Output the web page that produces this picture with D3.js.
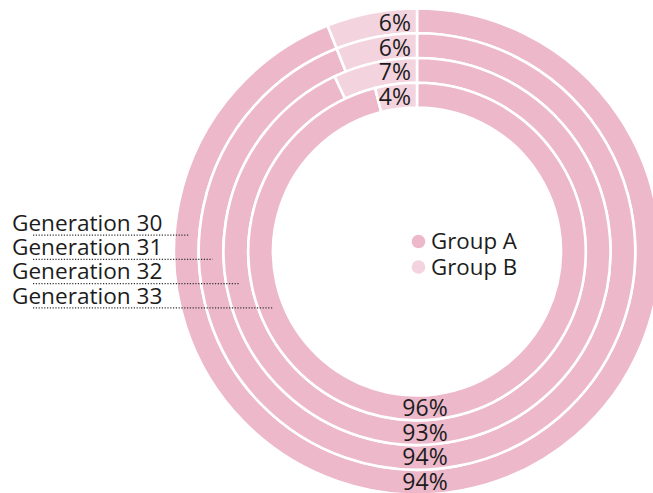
<!DOCTYPE html>
<html><head><meta charset="utf-8">
<script src="https://cdn.jsdelivr.net/npm/d3@7"></script>
<style>html,body{margin:0;padding:0;background:#fff;}svg{display:block;}</style>
</head><body>
<svg id="chart" width="653" height="493"></svg>
<script>
const categories = ["Generation 30","Generation 31","Generation 32","Generation 33"];
const groups = ["Group A","Group B"];
const groupA = [94,94,93,96];
const groupB = [6,6,7,4];

const W = 653, H = 493;
const cx = 417, cy = 251.5;
const colors = {"Group A":"#ecb8ca","Group B":"#f3d3de"};
const font = "'Open Sans', 'Noto Sans', sans-serif";
const textColor = "#1c1c1c";

const svg = d3.select("#chart");
const g = svg.append("g").attr("transform", `translate(${cx},${cy})`);

const rScale = d3.scaleBand().domain(categories).range([243, 144]).paddingInner(0);
const aScale = d3.scaleLinear().domain([0,100]).range([0, 2*Math.PI]);
const arc = d3.arc();

categories.forEach((c,i) => {
  const inner = rScale(c), outer = inner + rScale.bandwidth();
  const segs = [
    {k:"Group A", s:0, e:groupA[i]},
    {k:"Group B", s:groupA[i], e:groupA[i]+groupB[i]}
  ];
  segs.forEach(sg => {
    g.append("path")
      .attr("d", arc({innerRadius:inner, outerRadius:outer, startAngle:aScale(sg.s), endAngle:aScale(sg.e)}))
      .attr("fill", colors[sg.k])
      .attr("stroke", "#fff")
      .attr("stroke-width", 2.6);
  });
  const mid = (inner + outer)/2;
  g.append("text").attr("x", 8).attr("y", mid + 8)
    .attr("text-anchor","middle").attr("font-family",font).attr("font-size",23)
    .attr("fill",textColor).text(groupA[i] + "%");
  g.append("text").attr("x", -6).attr("y", -mid + 10)
    .attr("text-anchor","end").attr("font-family",font).attr("font-size",23)
    .attr("fill",textColor).text(groupB[i] + "%");
});

const rowY = d3.scaleLinear().domain([0,1]).range([231, 255.2]);
categories.forEach((c,i) => {
  const by = rowY(i);
  svg.append("text").attr("x", 12).attr("y", by)
    .attr("font-family",font).attr("font-size",22.6).attr("fill",textColor).text(c);
  const ly = by + 4.2;
  const dy = ly - cy;
  const r = rScale(c) + rScale.bandwidth()*0.45;
  const ex = cx - Math.sqrt(Math.max(0, r*r - dy*dy));
  svg.append("line").attr("x1", 33).attr("x2", ex).attr("y1", ly).attr("y2", ly)
    .attr("stroke","#333").attr("stroke-width",1.2).attr("stroke-dasharray","1.2,1.6");
});

const legY = d3.scaleLinear().domain([0,1]).range([241.5, 267]);
groups.forEach((k,i) => {
  svg.append("circle").attr("cx", 418.5).attr("cy", legY(i)).attr("r", 6.8).attr("fill", colors[k]);
  svg.append("text").attr("x", 431).attr("y", legY(i) + 7.5)
    .attr("font-family",font).attr("font-size",22.3).attr("fill",textColor).text(k);
});
</script>
</body></html>
